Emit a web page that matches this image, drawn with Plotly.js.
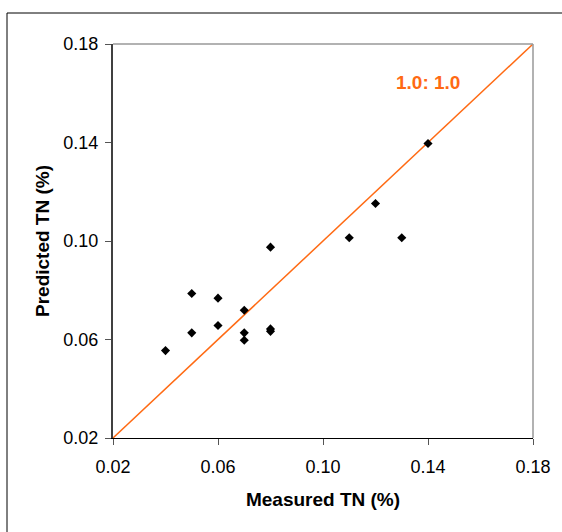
<!DOCTYPE html>
<html>
<head>
<meta charset="utf-8">
<script src="https://cdn.plot.ly/plotly-3.0.1.min.js"></script>
<style>html,body{margin:0;padding:0;background:#fff;overflow:hidden;}#chart{width:562px;height:532px;}</style>
</head>
<body>
<div id="chart"></div>
<script>
const measuredTN = [0.04, 0.05, 0.05, 0.06, 0.06, 0.07, 0.07, 0.07, 0.08, 0.08, 0.08, 0.11, 0.12, 0.13, 0.14];
const predictedTN = [0.0555, 0.0787, 0.0627, 0.0768, 0.0657, 0.0719, 0.0627, 0.0597, 0.0975, 0.0633, 0.0643, 0.1013, 0.1152, 0.1013, 0.1396];
const lineX = [0.0185, 0.1818];
const lineY = [0.0185, 0.1818];
const tickVals = [0.02, 0.06, 0.10, 0.14, 0.18];
const tickText = ['0.02', '0.06', '0.10', '0.14', '0.18'];

const font = '"Liberation Sans", Arial, sans-serif';

const traces = [
  {
    x: lineX, y: lineY, mode: 'lines', type: 'scatter',
    line: {color: '#FF6A13', width: 1.5}, cliponaxis: false, hoverinfo: 'skip', showlegend: false
  },
  {
    x: measuredTN, y: predictedTN, mode: 'markers', type: 'scatter',
    marker: {symbol: 'diamond', size: 7, color: '#000000'}, cliponaxis: false, showlegend: false
  }
];

const layout = {
  width: 562, height: 532,
  margin: {l: 113, r: 29, t: 44, b: 94},
  paper_bgcolor: '#ffffff', plot_bgcolor: '#ffffff',
  font: {family: font, color: '#000000', size: 18},
  xaxis: {
    range: [0.02, 0.18], tickvals: tickVals, ticktext: tickText,
    showgrid: false, zeroline: false, showline: true, linecolor: '#000000', linewidth: 1,
    ticks: 'outside', ticklen: 6, tickcolor: '#555555', tickwidth: 1, ticklabelstandoff: 6,
    tickfont: {family: font, size: 18, color: '#000000'},
    title: {text: '<b>Measured TN (%)</b>', font: {family: font, size: 19, color: '#000000'}, standoff: 17},
    automargin: false
  },
  yaxis: {
    range: [0.02, 0.18], tickvals: tickVals, ticktext: tickText,
    showgrid: false, zeroline: false, showline: true, linecolor: '#404040', linewidth: 2,
    ticks: 'outside', ticklen: 6, tickcolor: '#555555', tickwidth: 1, ticklabelstandoff: 3,
    tickfont: {family: font, size: 18, color: '#000000'},
    title: {text: '<b>Predicted TN (%)</b>', font: {family: font, size: 19, color: '#000000'}, standoff: 9},
    automargin: false
  },
  shapes: [
    {type: 'line', xref: 'paper', yref: 'paper', x0: 0, x1: 1, y0: 1, y1: 1, line: {color: '#999999', width: 1.5}},
    {type: 'line', xref: 'paper', yref: 'paper', x0: 1, x1: 1, y0: 0, y1: 1, line: {color: '#999999', width: 1.5}},
    {type: 'rect', xref: 'paper', yref: 'paper', x0: (7 - 113) / 420, x1: (620 - 113) / 420, y0: (438 - 600) / 394, y1: (438 - 13) / 394, line: {color: '#000000', width: 1}, layer: 'below'}
  ],
  annotations: [
    {x: 0.14, y: 0.1644, xref: 'x', yref: 'y', text: '<b>1.0: 1.0</b>', showarrow: false,
     font: {family: font, size: 19, color: '#FF6A13'}}
  ]
};

Plotly.newPlot('chart', traces, layout, {displayModeBar: false, staticPlot: true});
</script>
</body>
</html>
